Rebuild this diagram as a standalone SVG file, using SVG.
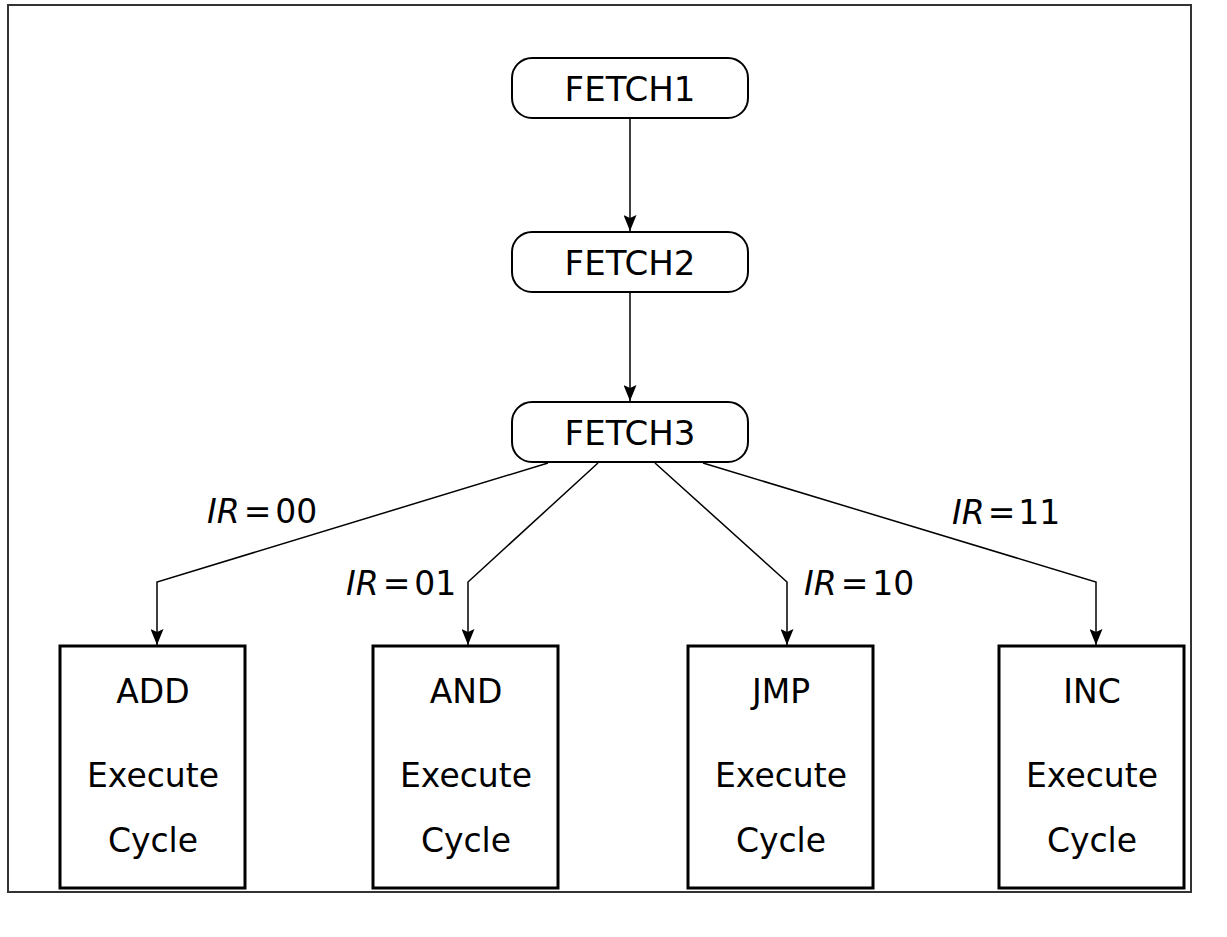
<svg xmlns="http://www.w3.org/2000/svg" width="1227" height="937" viewBox="0 0 1227 937">
<defs>
<marker id="arr" markerWidth="17" markerHeight="13" refX="16" refY="6.5" orient="auto" markerUnits="userSpaceOnUse">
<path d="M0,0 L16,6.5 L0,13 L3,6.5 z" fill="#000"/>
</marker>
<style>
.frame{fill:#fff;stroke:#333;stroke-width:2}
.rr{fill:#fff;stroke:#000;stroke-width:2}
.box{fill:#fff;stroke:#000;stroke-width:3}
.t{font-family:"DejaVu Sans",sans-serif;fill:#000;text-anchor:middle}
.ft{font-size:34px}
.bt{font-size:33px}
.lb{font-family:"DejaVu Sans",sans-serif;font-size:33px;fill:#000}
.it{font-style:italic}
.c{fill:none;stroke:#000;stroke-width:1.5}
</style>
</defs>
<rect x="0" y="0" width="1227" height="937" fill="#fff"/>
<rect class="frame" x="8" y="5" width="1183" height="887"/>
<g id="connectors">
<line class="c" x1="630" y1="118" x2="630" y2="231" marker-end="url(#arr)"/>
<line class="c" x1="630" y1="292" x2="630" y2="401" marker-end="url(#arr)"/>
<polyline class="c" points="548,463 157,582 157,645" marker-end="url(#arr)"/>
<polyline class="c" points="598,463 468,582 468,645" marker-end="url(#arr)"/>
<polyline class="c" points="655,463 787,582 787,645" marker-end="url(#arr)"/>
<polyline class="c" points="703,463 1096,582 1096,645" marker-end="url(#arr)"/>
<text class="lb" x="207" y="523"><tspan class="it">IR</tspan><tspan dx="4">=</tspan><tspan dx="4">00</tspan></text>
<text class="lb" x="346" y="595"><tspan class="it">IR</tspan><tspan dx="4">=</tspan><tspan dx="4">01</tspan></text>
<text class="lb" x="804" y="595"><tspan class="it">IR</tspan><tspan dx="4">=</tspan><tspan dx="4">10</tspan></text>
<text class="lb" x="952" y="524"><tspan class="it">IR</tspan><tspan dx="3">=</tspan><tspan dx="3">11</tspan></text>
</g>
<g id="fetch1">
<rect class="rr" x="512" y="58" width="236" height="60" rx="20"/>
<text class="t ft" x="630" y="101">FETCH1</text>
</g>
<g id="fetch2">
<rect class="rr" x="512" y="232" width="236" height="60" rx="20"/>
<text class="t ft" x="630" y="275">FETCH2</text>
</g>
<g id="fetch3">
<rect class="rr" x="512" y="402" width="236" height="60" rx="20"/>
<text class="t ft" x="630" y="445">FETCH3</text>
</g>
<g id="add">
<rect class="box" x="60" y="646" width="185" height="242"/>
<text class="t bt" x="153" y="703">ADD</text>
<text class="t bt" x="153" y="787">Execute</text>
<text class="t bt" x="153" y="852">Cycle</text>
</g>
<g id="and">
<rect class="box" x="373" y="646" width="185" height="242"/>
<text class="t bt" x="466" y="703">AND</text>
<text class="t bt" x="466" y="787">Execute</text>
<text class="t bt" x="466" y="852">Cycle</text>
</g>
<g id="jmp">
<rect class="box" x="688" y="646" width="185" height="242"/>
<text class="t bt" x="781" y="703">JMP</text>
<text class="t bt" x="781" y="787">Execute</text>
<text class="t bt" x="781" y="852">Cycle</text>
</g>
<g id="inc">
<rect class="box" x="999" y="646" width="185" height="242"/>
<text class="t bt" x="1092" y="703">INC</text>
<text class="t bt" x="1092" y="787">Execute</text>
<text class="t bt" x="1092" y="852">Cycle</text>
</g>
</svg>
